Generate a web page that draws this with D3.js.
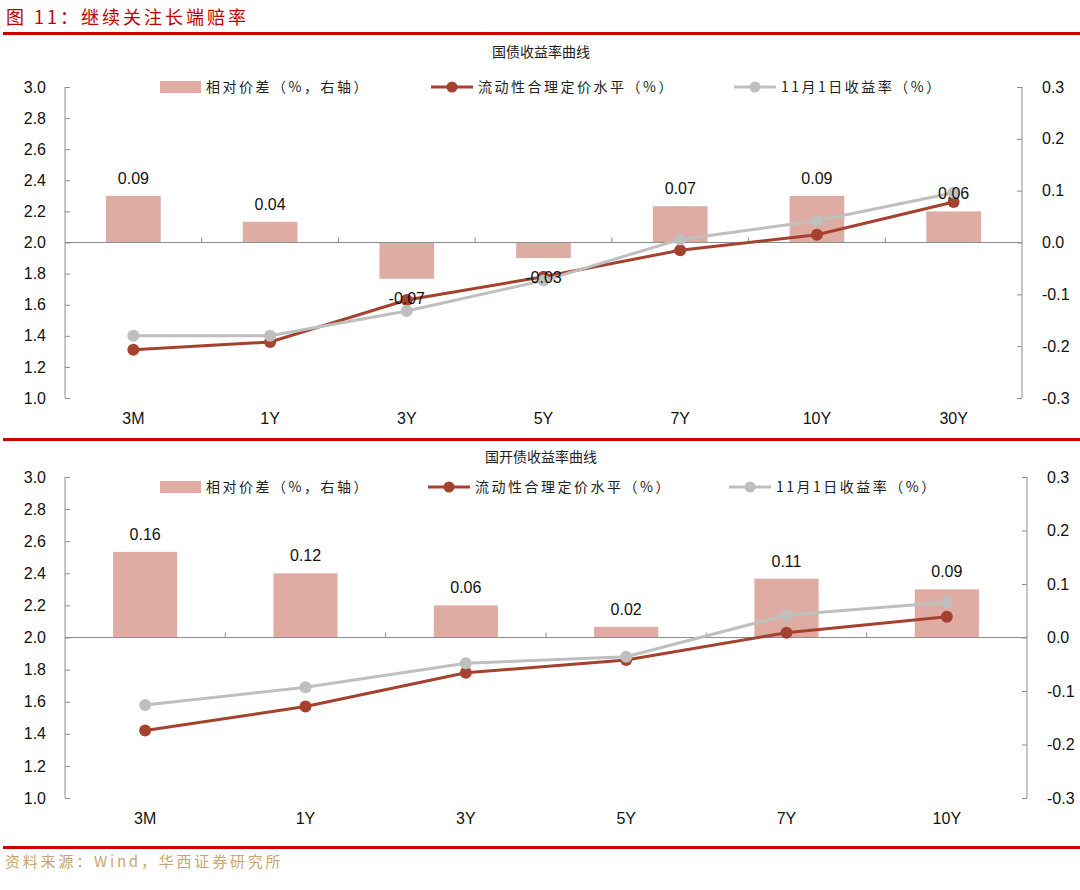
<!DOCTYPE html>
<html>
<head>
<meta charset="utf-8">
<script src="https://cdn.jsdelivr.net/npm/d3@7"></script>
<style>
  body { margin: 0; background: #fff; }
  svg text { font-family: "Liberation Sans", Arial, sans-serif; }
  .cjk { font-family: "Noto Sans CJK SC", sans-serif; }
</style>
</head>
<body>
<svg id="page" width="1080" height="890"></svg>
<script>
// 国债
var govCategories = ["3M", "1Y", "3Y", "5Y", "7Y", "10Y", "30Y"];
var govSpread = [0.09, 0.04, -0.07, -0.03, 0.07, 0.09, 0.06];
var govFair = [1.31, 1.36, 1.63, 1.78, 1.95, 2.05, 2.26];
var govYield = [1.40, 1.40, 1.56, 1.755, 2.02, 2.14, 2.32];

// 国开债
var cdbCategories = ["3M", "1Y", "3Y", "5Y", "7Y", "10Y"];
var cdbSpread = [0.16, 0.12, 0.06, 0.02, 0.11, 0.09];
var cdbFair = [1.42, 1.57, 1.78, 1.86, 2.03, 2.13];
var cdbYield = [1.58, 1.69, 1.84, 1.88, 2.14, 2.22];

var leftTicks = [1.0, 1.2, 1.4, 1.6, 1.8, 2.0, 2.2, 2.4, 2.6, 2.8, 3.0];
var rightTicks = [-0.3, -0.2, -0.1, 0.0, 0.1, 0.2, 0.3];

var legendNames = ["相对价差（%，右轴）", "流动性合理定价水平（%）", "11月1日收益率（%）"];

var barColor = "#dfaca3", fairColor = "#a5412f", yieldColor = "#bfbfbf", axisColor = "#8c8c8c";

// plain hyphen for negatives, like the source chart
var fmt = d3.formatLocale({decimal: ".", thousands: ",", grouping: [3], currency: ["", ""], minus: "-"});
var fmt1 = fmt.format(".1f"), fmt2 = fmt.format(".2f");

var svg = d3.select("#page");

// header
svg.append("text")
  .attr("class", "cjk")
  .attr("x", 6).attr("y", 24)
  .style("font-size", "18px")
  .style("fill", "#c00000")
  .style("letter-spacing", "3px")
  .text("图 11：继续关注长端赔率");

function redRule(y) {
  svg.append("rect")
    .attr("x", 3).attr("y", y)
    .attr("width", 1077).attr("height", 3)
    .style("fill", "#cc0000");
}
redRule(32);
redRule(438);
redRule(846);

svg.append("text")
  .attr("class", "cjk")
  .attr("x", 5).attr("y", 867)
  .style("font-size", "15px")
  .style("letter-spacing", "2.8px")
  .style("fill", "#c9a46e")
  .text("资料来源：Wind，华西证券研究所");

function drawChart(opt) {
  var left = 65, right = opt.right, top = opt.top, bottom = opt.bottom;

  var x = d3.scaleBand()
    .domain(opt.categories)
    .range([left, right]);
  var yL = d3.scaleLinear().domain([1.0, 3.0]).range([bottom, top]);
  var yR = d3.scaleLinear().domain([-0.3, 0.3]).range([bottom, top]);

  var g = svg.append("g");

  g.append("text")
    .attr("class", "cjk")
    .attr("x", 541).attr("y", opt.titleY)
    .attr("text-anchor", "middle")
    .style("font-size", "14px")
    .style("fill", "#222")
    .text(opt.title);

  // left axis
  var yAxisL = d3.axisLeft(yL).tickValues(leftTicks).tickSize(-5).tickPadding(19)
    .tickFormat(fmt1);
  var gl = g.append("g")
    .attr("transform", "translate(" + left + ",0)")
    .call(yAxisL);
  // right axis
  var yAxisR = d3.axisRight(yR).tickValues(rightTicks).tickSize(-5).tickPadding(20)
    .tickFormat(fmt1);
  var gr = g.append("g")
    .attr("transform", "translate(" + right + ",0)")
    .call(yAxisR);

  [gl, gr].forEach(function(a) {
    a.select(".domain").attr("d", null);
    a.selectAll(".tick line").style("stroke", axisColor);
    a.selectAll(".tick text")
      .style("font-size", "16px")
      .style("fill", "#111");
    a.append("line")
      .attr("x1", 0).attr("x2", 0)
      .attr("y1", top).attr("y2", bottom)
      .style("stroke", axisColor);
  });

  // bars
  var bw = x.bandwidth() * 0.4;
  g.selectAll(".bar")
    .data(opt.spread)
    .enter()
    .append("rect")
    .attr("class", "bar")
    .style("fill", barColor)
    .attr("x", function(d, i) { return x(opt.categories[i]) + (x.bandwidth() - bw) / 2; })
    .attr("y", function(d) { return yR(Math.max(d, 0)); })
    .attr("width", bw)
    .attr("height", function(d) { return Math.abs(yR(d) - yR(0)); });

  // category axis at zero
  var y0 = yR(0);
  g.append("line")
    .attr("x1", left).attr("x2", right)
    .attr("y1", y0).attr("y2", y0)
    .style("stroke", axisColor);
  g.selectAll(".xtick")
    .data(opt.categories.slice(1))
    .enter()
    .append("line")
    .attr("x1", function(d) { return x(d); })
    .attr("x2", function(d) { return x(d); })
    .attr("y1", y0).attr("y2", y0 - 5)
    .style("stroke", axisColor);
  g.selectAll(".xlabel")
    .data(opt.categories)
    .enter()
    .append("text")
    .attr("x", function(d) { return x(d) + x.bandwidth() / 2; })
    .attr("y", bottom + 26)
    .attr("text-anchor", "middle")
    .style("font-size", "16px")
    .style("fill", "#111")
    .text(function(d) { return d; });

  // lines
  function series(values, color) {
    var line = d3.line()
      .x(function(d, i) { return x(opt.categories[i]) + x.bandwidth() / 2; })
      .y(function(d) { return yL(d); });
    g.append("path")
      .datum(values)
      .attr("d", line)
      .style("fill", "none")
      .style("stroke", color)
      .style("stroke-width", 3);
    g.selectAll(null)
      .data(values)
      .enter()
      .append("circle")
      .attr("cx", function(d, i) { return x(opt.categories[i]) + x.bandwidth() / 2; })
      .attr("cy", function(d) { return yL(d); })
      .attr("r", 6)
      .style("fill", color);
  }
  series(opt.fair, fairColor);
  series(opt.yield, yieldColor);

  // bar labels
  g.selectAll(".barlabel")
    .data(opt.spread)
    .enter()
    .append("text")
    .attr("x", function(d, i) { return x(opt.categories[i]) + x.bandwidth() / 2; })
    .attr("y", function(d) { return d >= 0 ? yR(d) - 12 : yR(d) + 25; })
    .attr("text-anchor", "middle")
    .style("font-size", "16px")
    .style("fill", "#111")
    .text(function(d) { return fmt2(d); });

  // legend
  var ly = opt.legendY;
  var lg = g.append("g");
  lg.append("rect")
    .attr("x", 160).attr("y", ly - 6)
    .attr("width", 41).attr("height", 12)
    .style("fill", barColor);
  lg.append("text").attr("class", "cjk")
    .attr("x", 206).attr("y", ly + 5)
    .style("font-size", "14px").style("letter-spacing", "2.5px").style("fill", "#222")
    .text(legendNames[0]);

  [[opt.leg2, fairColor, legendNames[1]], [opt.leg3, yieldColor, legendNames[2]]].forEach(function(l) {
    lg.append("line")
      .attr("x1", l[0]).attr("x2", l[0] + 42)
      .attr("y1", ly).attr("y2", ly)
      .style("stroke", l[1]).style("stroke-width", 3);
    lg.append("circle")
      .attr("cx", l[0] + 21).attr("cy", ly).attr("r", 5.5)
      .style("fill", l[1]);
    lg.append("text").attr("class", "cjk")
      .attr("x", l[0] + 47).attr("y", ly + 5)
      .style("font-size", "14px").style("letter-spacing", "2.5px").style("fill", "#222")
      .text(l[2]);
  });
}

drawChart({
  title: "国债收益率曲线", titleY: 57,
  categories: govCategories, spread: govSpread, fair: govFair, yield: govYield,
  top: 87, bottom: 398, right: 1022,
  legendY: 87, leg2: 431, leg3: 734
});

drawChart({
  title: "国开债收益率曲线", titleY: 462,
  categories: cdbCategories, spread: cdbSpread, fair: cdbFair, yield: cdbYield,
  top: 477, bottom: 798, right: 1027,
  legendY: 487, leg2: 428, leg3: 729
});
</script>
</body>
</html>
